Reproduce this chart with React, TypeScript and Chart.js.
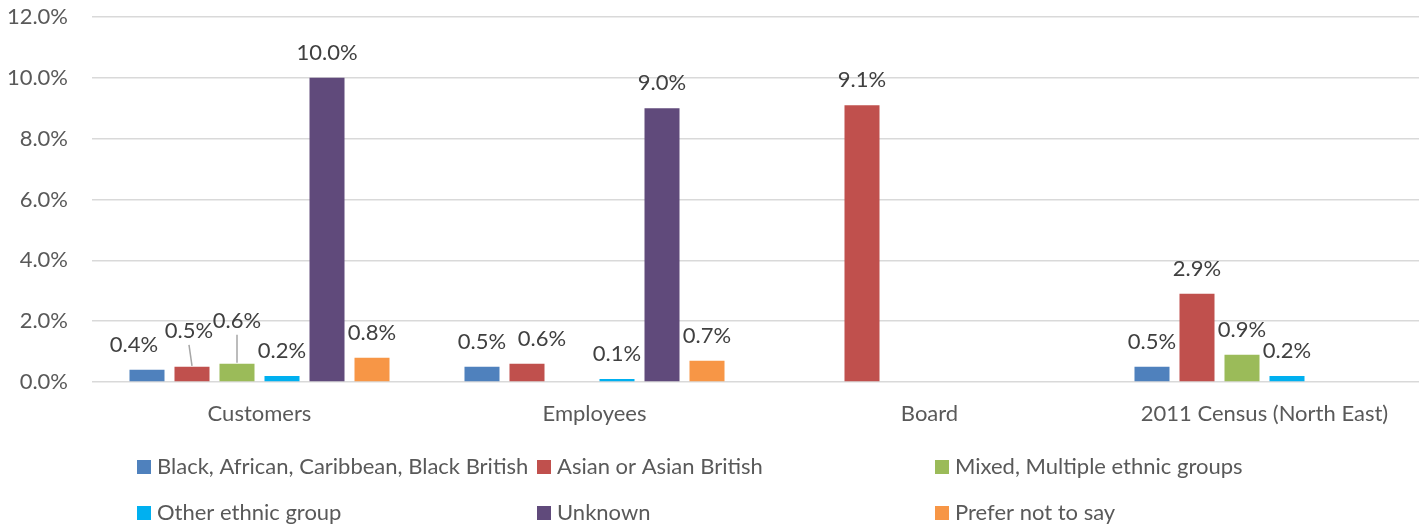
import React, { useEffect, useRef } from "react";
import { Chart, registerables } from "chart.js";

Chart.register(...registerables);

const categories = ["Customers", "Employees", "Board", "2011 Census (North East)"];
const blackValues = [0.4, 0.5, null, 0.5];
const asianValues = [0.5, 0.6, 9.1, 2.9];
const mixedValues = [0.6, null, null, 0.9];
const otherValues = [0.2, 0.1, null, 0.2];
const unknownValues = [10.0, 9.0, null, null];
const preferValues = [0.8, 0.7, null, null];
const seriesNames = [
  "Black, African, Caribbean, Black British",
  "Asian or Asian British",
  "Mixed, Multiple ethnic groups",
  "Other ethnic group",
  "Unknown",
  "Prefer not to say",
];
const seriesColors = ["#4f81bd", "#c0504d", "#9bbb59", "#00b0f0", "#604a7b", "#f79646"];
const yTicks = [0, 2, 4, 6, 8, 10, 12];

const FONT = "Lato, 'Open Sans', sans-serif";

const labelNudges: Record<string, { dx?: number; dy?: number; leader?: boolean }> = {
  "0-0": { dx: -13 },
  "1-0": { dx: -3, dy: -11, leader: true },
  "2-0": { dy: -18, leader: true },
  "1-1": { dx: 15 },
};

const dataLabelPlugin = {
  id: "dataLabels",
  afterDatasetsDraw(chart: any) {
    const ctx = chart.ctx;
    ctx.save();
    ctx.font = `22px ${FONT}`;
    ctx.fillStyle = "#404040";
    ctx.textAlign = "center";
    ctx.textBaseline = "middle";
    chart.data.datasets.forEach((ds: any, di: number) => {
      const meta = chart.getDatasetMeta(di);
      meta.data.forEach((el: any, i: number) => {
        const v = ds.data[i];
        if (v === null || v === undefined) return;
        const n = labelNudges[`${di}-${i}`] || {};
        const lx = el.x + (n.dx || 0);
        const ly = el.y - 25 + (n.dy || 0);
        if (n.leader) {
          ctx.save();
          ctx.strokeStyle = "#a6a6a6";
          ctx.lineWidth = 1.5;
          ctx.beginPath();
          ctx.moveTo(lx, ly + 14);
          ctx.lineTo(el.x, el.y - 1);
          ctx.stroke();
          ctx.restore();
        }
        ctx.fillText(v.toFixed(1) + "%", lx, ly);
      });
    });
    ctx.restore();
  },
};

const gridLegendPlugin = {
  id: "gridLegend",
  afterDraw(chart: any, _args: any, opts: any) {
    const ctx = chart.ctx;
    ctx.save();
    ctx.font = `22px ${FONT}`;
    ctx.textAlign = "left";
    ctx.textBaseline = "middle";
    chart.data.datasets.forEach((ds: any, di: number) => {
      const col = di % 3;
      const row = Math.floor(di / 3);
      const x = opts.columns[col];
      const y = opts.rows[row];
      ctx.fillStyle = ds.backgroundColor;
      ctx.fillRect(x, y - 7, 14, 14);
      ctx.fillStyle = "#595959";
      ctx.fillText(ds.label, x + 20, y);
    });
    ctx.restore();
  },
};

export default function App() {
  const ref = useRef<HTMLCanvasElement>(null);
  useEffect(() => {
    document.body.style.margin = "0";
    document.documentElement.style.overflow = "hidden";
    const values = [blackValues, asianValues, mixedValues, otherValues, unknownValues, preferValues];
    const chart = new Chart(ref.current!, {
      type: "bar",
      data: {
        labels: categories,
        datasets: values.map((d, i) => ({
          label: seriesNames[i],
          data: d as any,
          backgroundColor: seriesColors[i],
          categoryPercentage: 0.806,
          barPercentage: 0.778,
        })),
      },
      plugins: [dataLabelPlugin, gridLegendPlugin],
      options: {
        animation: false,
        responsive: false,
        maintainAspectRatio: false,
        layout: { padding: { top: 17, left: 0, right: 0, bottom: 0 } },
        plugins: {
          legend: { display: false },
          tooltip: { enabled: false },
          gridLegend: { columns: [137, 537, 935], rows: [467, 513] },
        } as any,
        scales: {
          x: {
            grid: { display: false, drawTicks: false },
            border: { display: false },
            ticks: {
              font: { family: FONT, size: 22 },
              color: "#595959",
              padding: 19,
              maxRotation: 0,
            },
            afterFit(scale: any) {
              scale.height = 143;
              scale.paddingLeft = 0;
              scale.paddingRight = 0;
            },
          },
          y: {
            min: 0,
            max: 12,
            afterBuildTicks(scale: any) {
              scale.ticks = yTicks.map((v) => ({ value: v }));
            },
            grid: { color: "#d9d9d9", lineWidth: 1.5, drawTicks: false },
            border: { display: false },
            ticks: {
              font: { family: FONT, size: 22 },
              color: "#595959",
              padding: 24,
              callback: (v: any) => Number(v).toFixed(1) + "%",
            },
            afterFit(scale: any) {
              scale.width = 92;
              scale.paddingTop = 0;
              scale.paddingBottom = 0;
            },
          },
        },
      },
    });
    return () => chart.destroy();
  }, []);
  return <canvas ref={ref} width={1432} height={525} style={{ display: "block" }} />;
}
